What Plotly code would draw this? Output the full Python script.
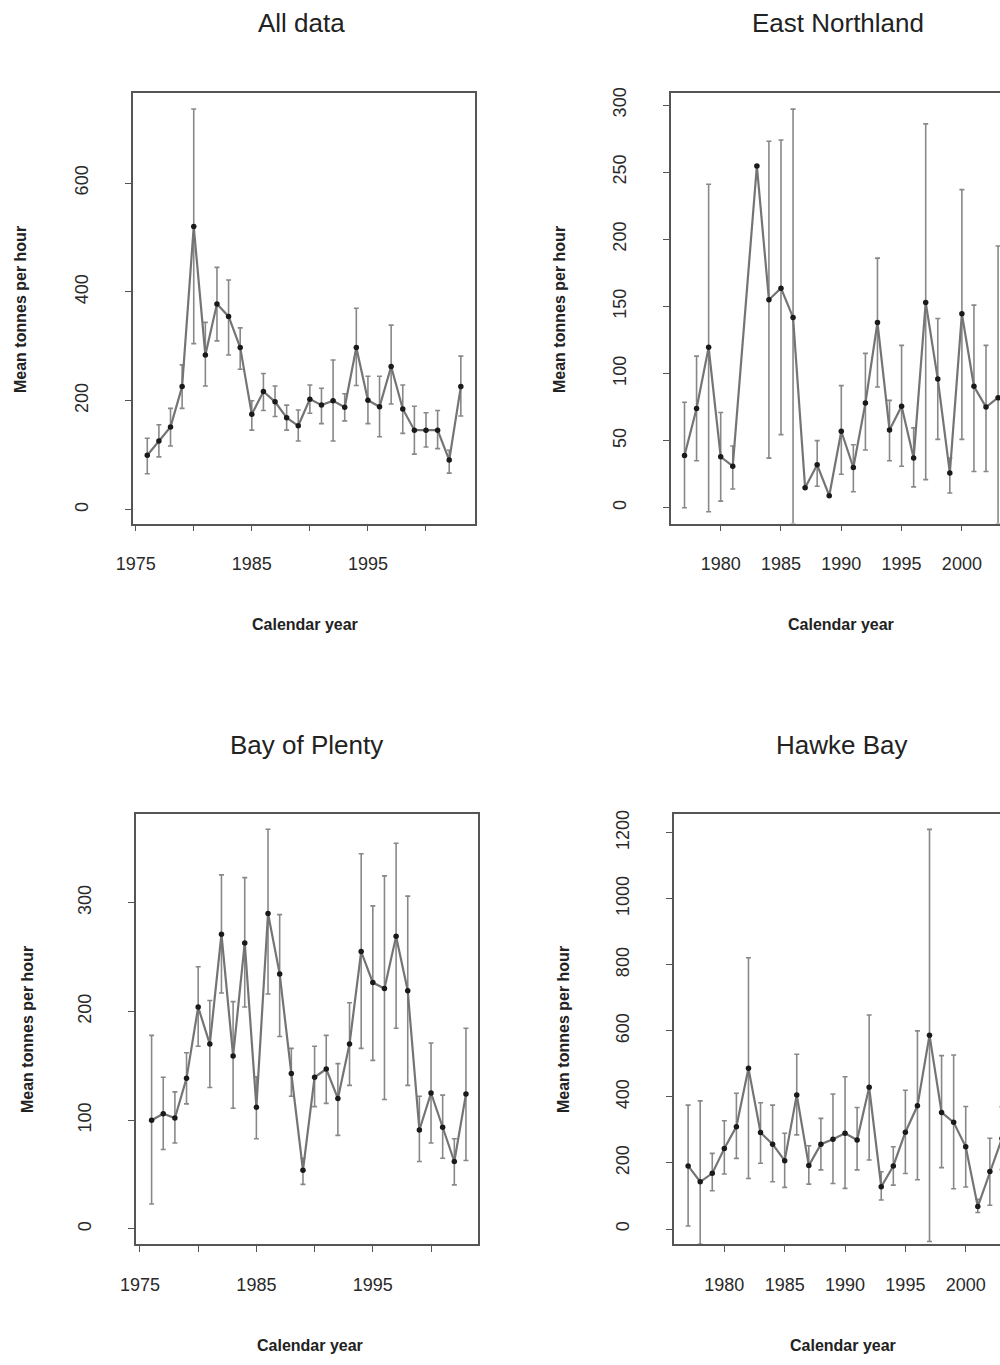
import plotly.graph_objects as go

# ---------------- data ----------------
all_years = list(range(1976, 2004))
all_mean = [100, 126, 152, 226, 520, 284, 378, 355, 298, 175, 217, 198, 169, 154,
            203, 192, 200, 188, 298, 201, 189, 263, 185, 146, 146, 146, 91, 226]
all_upper = [131, 156, 186, 266, 736, 344, 445, 422, 334, 200, 250, 227, 192, 183,
             229, 223, 275, 213, 370, 245, 245, 339, 229, 190, 178, 182, 109, 282]
all_lower = [66, 97, 117, 186, 305, 227, 310, 284, 258, 146, 182, 171, 146, 126,
             177, 158, 126, 163, 228, 158, 134, 194, 140, 102, 115, 112, 67, 172]

east_years = [1977, 1978, 1979, 1980, 1981, 1983, 1984, 1985, 1986, 1987, 1988, 1989,
              1990, 1991, 1992, 1993, 1994, 1995, 1996, 1997, 1998, 1999, 2000, 2001,
              2002, 2003]
east_mean = [39, 74, 119.5, 38, 31, 254.6, 155, 163.6, 141.8, 15, 32, 9, 57, 30, 78,
             138, 58, 75.6, 37, 153, 96, 26, 144.5, 90.5, 75, 82]
east_upper = [78.6, 113, 241, 71, 46, 254.6, 273, 274, 297, 15, 50, 9, 91, 47, 115,
              186, 80, 121, 59.5, 286, 141, 37, 237, 151, 121, 195]
east_lower = [0, 35, -3, 5, 14, 254.6, 37, 54.5, -12, 15, 16, 9, 25, 12, 43, 90, 35,
              31, 15.6, 21, 51, 11, 51, 27, 27, -12]

bay_years = list(range(1976, 2004))
bay_mean = [100, 106, 102, 138.5, 204, 170, 271, 159, 263, 112, 290, 234.5, 143, 54,
            139.5, 147, 120, 170, 255, 226.5, 221, 269, 219, 91, 125, 93.5, 62, 124]
bay_upper = [178, 139.5, 126, 162, 241, 210, 325.5, 209, 323, 140, 367.5, 289, 166, 65,
             168, 178, 152, 208, 345, 297, 324.6, 354.6, 306, 122, 171, 123, 83, 184.5]
bay_lower = [23, 73, 79, 115, 168, 130, 217, 111, 204, 83, 216, 177, 122, 41, 112.5,
             115.5, 86, 132, 166, 155, 119, 184.5, 132, 62, 79, 65, 40.5, 63]

hawke_years = list(range(1977, 2004))
hawke_mean = [191, 143, 168.5, 244, 310, 486.5, 292, 257, 207, 406, 192, 257, 271.5,
              290, 269.5, 429, 128, 191, 293, 373, 587, 353, 323, 249, 68, 174, 274]
hawke_upper = [375, 388, 229, 328, 411, 821.5, 382.5, 375, 290, 529, 252, 335, 409,
               461, 368, 648, 173.6, 249, 420, 600, 1210, 525, 527, 371, 90, 275, 370]
hawke_lower = [9, -46, 116, 166.5, 214, 153, 199, 143, 126, 285, 136, 179, 138, 123,
               179, 209, 88, 133, 168, 149, -38, 186, 122, 127, 50, 72, 180]

titles = ["All data", "East Northland", "Bay of Plenty", "Hawke Bay"]
y_title = "Mean tonnes per hour"
x_title = "Calendar year"

# ---------------- style ----------------
FONT = "Liberation Sans, Arial, sans-serif"
FRAME = "#555555"
LINE_C = "#747474"
ERR_C = "#888888"
MARK_C = "#1a1a1a"

W, H = 1000, 1365

panels = [
    dict(years=all_years, mean=all_mean, up=all_upper, lo=all_lower,
         box=(133, 475, 92.7, 523.5), xr=[1974.77, 2004.22], yr=[-25.5, 766],
         yt=[0, 200, 400, 600], xt=[1975, 1980, 1985, 1990, 1995, 2000],
         xl=["1975", "", "1985", "", "1995", ""], mirror_y=True,
         title_xy=(301, 23), xt_xy=(305, 625), yt_xy=(21, 310)),
    dict(years=east_years, mean=east_mean, up=east_upper, lo=east_lower,
         box=(671, 1000, 92.7, 523.5), xr=[1975.88, 2003.16], yr=[-11.7, 309.2],
         yt=[0, 50, 100, 150, 200, 250, 300], xt=[1980, 1985, 1990, 1995, 2000],
         xl=["1980", "1985", "1990", "1995", "2000"], mirror_y=False,
         title_xy=(838, 23), xt_xy=(841, 625), yt_xy=(560, 310)),
    dict(years=bay_years, mean=bay_mean, up=bay_upper, lo=bay_lower,
         box=(136, 478.3, 814, 1244.3), xr=[1974.66, 2004.06], yr=[-14.1, 381.5],
         yt=[0, 100, 200, 300], xt=[1975, 1980, 1985, 1990, 1995, 2000],
         xl=["1975", "", "1985", "", "1995", ""], mirror_y=True,
         title_xy=(306, 745), xt_xy=(310, 1345), yt_xy=(27, 1030)),
    dict(years=hawke_years, mean=hawke_mean, up=hawke_upper, lo=hawke_lower,
         box=(674, 1000, 814, 1244.3), xr=[1975.83, 2002.84], yr=[-46.3, 1256.6],
         yt=[0, 200, 400, 600, 800, 1000, 1200], xt=[1980, 1985, 1990, 1995, 2000],
         xl=["1980", "1985", "1990", "1995", "2000"], mirror_y=False,
         title_xy=(842, 745), xt_xy=(843, 1345), yt_xy=(563, 1030)),
]

fig = go.Figure()
layout = dict(
    width=W, height=H, margin=dict(l=0, r=0, t=0, b=0, autoexpand=False),
    paper_bgcolor="white", plot_bgcolor="white", showlegend=False,
    font=dict(family=FONT, color="#222222"),
)
annotations = []

for i, p in enumerate(panels):
    n = "" if i == 0 else str(i + 1)
    x0, x1, ytop, ybot = p["box"]
    xd = [x0 / W, x1 / W]
    yd = [1 - ybot / H, 1 - ytop / H]
    plus = [u - m for u, m in zip(p["up"], p["mean"])]
    minus = [m - l for m, l in zip(p["mean"], p["lo"])]
    fig.add_trace(go.Scatter(
        x=p["years"], y=p["mean"], mode="lines+markers",
        xaxis="x" + n, yaxis="y" + n,
        line=dict(color=LINE_C, width=2.2),
        marker=dict(color=MARK_C, size=5.5, symbol="circle"),
        error_y=dict(type="data", symmetric=False, array=plus, arrayminus=minus,
                     color=ERR_C, thickness=1.6, width=2.5),
        cliponaxis=True,
    ))
    layout["xaxis" + n] = dict(
        domain=xd, range=p["xr"], anchor="y" + n, automargin=False,
        tickvals=p["xt"], ticktext=p["xl"], ticks="outside", ticklen=6,
        tickcolor=FRAME, tickwidth=1.2,
        showline=True, linecolor=FRAME, linewidth=1.5, mirror=True,
        showgrid=False, zeroline=False,
        tickfont=dict(size=18, family=FONT, color="#2a2a2a"),
        ticklabelstandoff=17,
    )
    layout["yaxis" + n] = dict(
        domain=yd, range=p["yr"], anchor="x" + n, automargin=False,
        tickvals=p["yt"], ticks="outside", ticklen=6,
        tickcolor=FRAME, tickwidth=1.2,
        showline=True, linecolor=FRAME, linewidth=1.5, mirror=p["mirror_y"],
        showgrid=False, zeroline=False, tickangle=-90,
        tickfont=dict(size=18, family=FONT, color="#2a2a2a"),
        ticklabelstandoff=30,
    )
    tx, ty = p["title_xy"]
    annotations.append(dict(
        text=titles[i], x=tx / W, y=1 - ty / H, xref="paper", yref="paper",
        showarrow=False, xanchor="center", yanchor="middle",
        font=dict(size=26, family=FONT, color="#222222"),
    ))
    ax, ay = p["xt_xy"]
    annotations.append(dict(
        text="<b>" + x_title + "</b>", x=ax / W, y=1 - ay / H,
        xref="paper", yref="paper", showarrow=False,
        xanchor="center", yanchor="middle",
        font=dict(size=16, family=FONT, color="#222222"),
    ))
    yx, yy = p["yt_xy"]
    annotations.append(dict(
        text="<b>" + y_title + "</b>", textangle=-90, x=yx / W, y=1 - yy / H,
        xref="paper", yref="paper", showarrow=False,
        xanchor="center", yanchor="middle",
        font=dict(size=16, family=FONT, color="#222222"),
    ))

layout["annotations"] = annotations
fig.update_layout(**layout)
fig.write_html("out.html")
